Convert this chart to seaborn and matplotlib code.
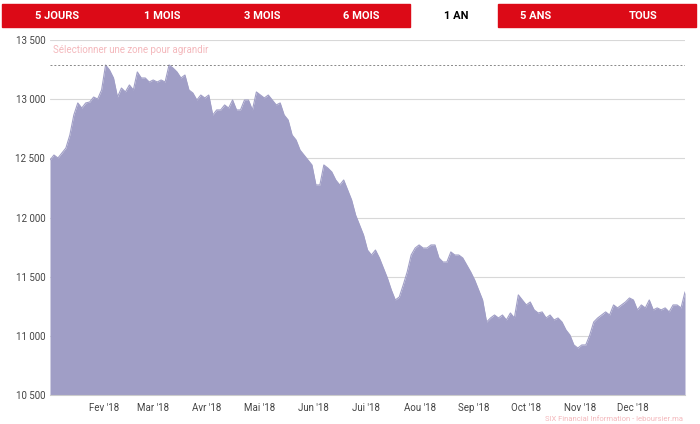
import numpy as np
import pandas as pd
import matplotlib
matplotlib.use("Agg")
import matplotlib.pyplot as plt
import seaborn as sns

# Values (roughly every 2-3 days, Jan 1 -> Dec 31 2018)
values = [
    12486, 12528, 12503, 12545, 12587, 12697, 12866, 12968, 12925, 12968,
    12976, 13018, 13001, 13078, 13289, 13246, 13179, 13018, 13094, 13061,
    13120, 13078, 13230, 13179, 13179, 13145, 13162, 13145, 13162, 13145,
    13289, 13263, 13230, 13179, 13204, 13078, 13052, 12993, 13035, 13010,
    13035, 12866, 12909, 12909, 12951, 12925, 12993, 12909, 12909, 12993,
    12993, 12909, 13061, 13035, 13010, 13035, 12993, 12951, 12968, 12866,
    12824, 12697, 12655, 12570, 12528, 12486, 12444, 12275, 12275, 12444,
    12418, 12385, 12317, 12275, 12317, 12233, 12148, 12021, 11937, 11852,
    11725, 11683, 11725, 11658, 11573, 11489, 11388, 11303, 11328, 11430,
    11540, 11683, 11742, 11768, 11742, 11742, 11768, 11768, 11658, 11624,
    11624, 11709, 11683, 11683, 11658, 11599, 11540, 11472, 11388, 11303,
    11117, 11151, 11176, 11151, 11176, 11134, 11193, 11151, 11346, 11303,
    11261, 11286, 11219, 11193, 11202, 11151, 11176, 11134, 11151, 11117,
    11050, 11007, 10923, 10897, 10923, 10923, 11007, 11117, 11151, 11176,
    11202, 11176, 11261, 11236, 11261, 11286, 11320, 11303, 11219, 11261,
    11236, 11303, 11219, 11236, 11219, 11236, 11202, 11261, 11261, 11236,
    11371,
]
buttons = ["5 JOURS", "1 MOIS", "3 MOIS", "6 MOIS", "1 AN", "5 ANS", "TOUS"]
month_labels = ["Fev '18", "Mar '18", "Avr '18", "Mai '18", "Jun '18", "Jui '18",
                "Aou '18", "Sep '18", "Oct '18", "Nov '18", "Dec '18"]
y_ticks = [10500, 11000, 11500, 12000, 12500, 13000, 13500]

start, end = pd.Timestamp("2018-01-01"), pd.Timestamp("2018-12-31")
dates = pd.to_datetime(np.linspace(start.value, end.value, len(values)))
df = pd.DataFrame({"date": dates, "value": values})

sns.set_style("white")
plt.rcParams["font.family"] = ["Roboto", "DejaVu Sans"]

fig = plt.figure(figsize=(7, 4.24), dpi=100)
ax = fig.add_axes([50 / 700, 29 / 424, 635 / 700, 355 / 424])

fill_color = "#a09ec6"
ax.fill_between(df["date"], df["value"], 10500, color=fill_color, lw=0)
sns.lineplot(data=df, x="date", y="value", ax=ax, color=fill_color, lw=0.8)

ax.set_xlim(start, end)
ax.set_ylim(10500, 13500)
ax.set_yticks(y_ticks)
ax.set_yticklabels([f"{v:,}".replace(",", " ") for v in y_ticks])
ax.grid(axis="y", color="#d8d8d8", lw=0.8)
for g in ax.get_ygridlines():
    g.set_zorder(3)
ax.axhline(max(values), color="#888888", ls=(0, (2, 2)), lw=0.7, zorder=4)

tick_dates = pd.date_range("2018-02-01", periods=11, freq="MS")
ax.set_xticks(tick_dates)
ax.set_xticklabels(month_labels)
ax.tick_params(axis="x", length=4, pad=2, color="#aaaaaa", labelsize=7, labelcolor="#444444")
ax.tick_params(axis="y", length=0, labelsize=7, labelcolor="#444444")
ax.set_xlabel("")
ax.set_ylabel("")
for s in ["top", "right", "left"]:
    ax.spines[s].set_visible(False)
ax.spines["bottom"].set_color("#cccccc")

ax.text(0.005, 0.985, "Sélectionner une zone pour agrandir", transform=ax.transAxes,
        fontsize=7, color="#f4b8bc", va="top")
fig.text(683 / 700, 2 / 424, "SIX Financial Information - leboursier.ma",
         fontsize=5.5, color="#f4b8bc", ha="right", va="bottom")

# Period buttons along the top
bx = fig.add_axes([0, 1 - 29 / 424, 1, 29 / 424])
bx.set_xlim(0, 700)
bx.set_ylim(29, 0)
bx.axis("off")
bx.add_patch(plt.Rectangle((2, 4), 408, 23, color="#dc0a17"))
bx.add_patch(plt.Rectangle((498, 4), 198, 23, color="#dc0a17"))
centers = [57, 162, 262, 361, 456, 536, 643]
for c, b in zip(centers, buttons):
    bx.text(c, 16, b, ha="center", va="center", fontsize=8, fontweight="bold",
            color="black" if b == "1 AN" else "white")

fig.savefig("out.png", dpi=100)
